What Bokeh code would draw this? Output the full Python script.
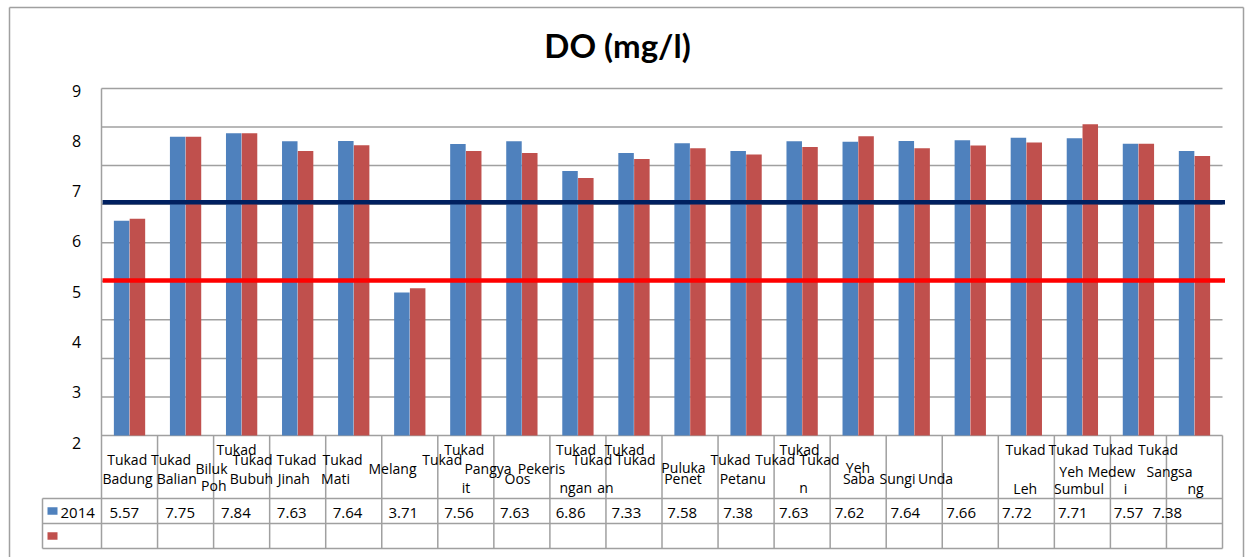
import numpy as np
from bokeh.plotting import figure
from bokeh.models import Range1d, ColumnDataSource
from bokeh.core.properties import value
from bokeh.embed import file_html
from bokeh.resources import INLINE

# ---------------- data ----------------
title = "DO (mg/l)"
categories = [
    "Tukad Badung", "Tukad Balian", "Tukad Biluk Poh", "Tukad Bubuh", "Tukad Jinah",
    "Tukad Mati", "Tukad Melangit", "Tukad Oos", "Tukad Pangyangan", "Tukad Pekerisan",
    "Tukad Penet", "Tukad Petanu", "Tukad Pulukan", "Tukad Yeh Saba", "Tukad Sungi",
    "Tukad Unda", "Tukad Yeh Leh", "Tukad Yeh Sumbul", "Tukad Medewi", "Tukad Sangsang",
]
series_2014_name = "2014"
do_2014 = [5.57, 7.75, 7.84, 7.63, 7.64, 3.71, 7.56, 7.63, 6.86, 7.33,
           7.58, 7.38, 7.63, 7.62, 7.64, 7.66, 7.72, 7.71, 7.57, 7.38]
series_2_name = ""
do_series2 = [5.62, 7.75, 7.84, 7.38, 7.53, 3.82, 7.38, 7.33, 6.68, 7.17,
              7.45, 7.29, 7.48, 7.76, 7.45, 7.52, 7.60, 8.07, 7.57, 7.25]
limit_navy = 6.05
limit_red = 4.02
y_max = 9
ytick_labels = ["9", "8", "7", "6", "5", "4", "3", "2"]

# category label text as it is broken into pieces in the table row
label_fragments = [
    ("Tukad", 236, 449.3), ("Tukad", 463.8, 449.3), ("Tukad", 575.5, 449.3), ("Tukad", 624, 449.3),
    ("Tukad", 799, 449.3), ("Tukad", 1025, 449.3), ("Tukad", 1068, 449.3), ("Tukad", 1112.5, 449.3),
    ("Tukad", 1157.5, 449.3),
    ("Tukad", 126.7, 459.3), ("Tukad", 170.5, 459.3), ("Tukad", 252, 459.3), ("Tukad", 296, 459.3),
    ("Tukad", 342, 459.3), ("Tukad", 441.7, 459.3), ("Tukad", 591.7, 459.3), ("Tukad", 635, 459.3),
    ("Tukad", 730, 459.3), ("Tukad", 774.7, 459.3), ("Tukad", 819, 459.3),
    ("Biluk", 211, 468), ("Melang", 392, 467.7), ("Pangya", 487.5, 468), ("Pekeris", 541, 468),
    ("Puluka", 683, 466.7), ("Yeh", 857.5, 466.7), ("Yeh", 1071, 470.5), ("Medew", 1111, 470.5),
    ("Sangsa", 1169, 470.5),
    ("Badung", 127, 478.3), ("Balian", 176.3, 478.3), ("Bubuh", 251, 478.3), ("Jinah", 293.3, 478.3),
    ("Mati", 335, 478.3), ("Oos", 517, 478.3), ("Penet", 682.5, 478.3), ("Petanu", 742.3, 478.3),
    ("Saba", 858.3, 478.3), ("Sungi", 897, 478.3), ("Unda", 935, 478.3),
    ("Poh", 213.3, 485.3), ("it", 465.5, 486.5), ("ngan", 575.3, 486.5), ("an", 605, 486.5),
    ("n", 803, 486.5), ("Leh", 1024.7, 487.7), ("Sumbul", 1078.5, 487.7), ("i", 1125, 487.7),
    ("ng", 1195, 487.7),
]

# ---------------- layout (page pixels) ----------------
OFF = 0
W, H = 1249, 557
PLOT_L, PLOT_R, PLOT_T, ZERO = 101, 1222, 88, 435
ROW_LABEL_B, ROW1_B, ROW2_B, LEGEND_L = 498, 523, 548, 42
YLAB_X, YLAB_TOP, YLAB_BOT = 76, 90, 442.3

n = len(categories)
col_w = (PLOT_R - PLOT_L) / n
unit = (ZERO - PLOT_T) / y_max


def fx(px):
    return (px - PLOT_L) / col_w


def fy(py):
    return (ZERO - py) / unit


FONT = value("Open Sans")
TFONT = value("Lato")
GRID = "#a0a0a0"

p = figure(width=W, height=H, output_backend="svg", toolbar_location=None,
           x_range=Range1d(fx(OFF), fx(OFF + W)), y_range=Range1d(fy(OFF + H), fy(OFF)),
           min_border=0, x_axis_location=None, y_axis_location=None)
p.grid.visible = False
p.outline_line_color = None
p.background_fill_color = "white"
p.border_fill_color = "white"

# outer chart border (left, top, right)
p.segment(x0=[fx(9), fx(9), fx(1243)], y0=[fy(560), fy(7), fy(7)],
          x1=[fx(9), fx(1243), fx(1243)], y1=[fy(7), fy(7), fy(560)],
          line_color="#a0a0a0", line_width=1.5)

# horizontal gridlines 0..9
gv = list(range(0, y_max + 1))
p.segment(x0=0, x1=n, y0=gv, y1=gv, line_color=GRID, line_width=1.5)

# bars
xc = np.arange(n) + 0.5
bw = 15.5 / col_w
dx = 7.9 / col_w
p.vbar(x=xc - dx, top=do_2014, bottom=0, width=bw, fill_color="#4f81bd", line_color=None)
p.vbar(x=xc + dx, top=do_series2, bottom=0, width=bw, fill_color="#c0504d", line_color=None)

# threshold lines
xend = fx(PLOT_R + 2.5)
p.segment(x0=[fx(PLOT_L + 1)], x1=[xend], y0=[limit_navy], y1=[limit_navy], line_color="#002060", line_width=4.5)
p.segment(x0=[fx(PLOT_L + 1)], x1=[xend], y0=[limit_red], y1=[limit_red], line_color="#ff0000", line_width=4.5)

# data table lines
tb = fy(ROW2_B)
vx = list(range(0, n + 1))
p.segment(x0=vx, x1=vx, y0=[y_max if i == 0 else 0 for i in vx], y1=tb, line_color=GRID, line_width=1.5)
p.segment(x0=fx(LEGEND_L), x1=fx(LEGEND_L), y0=fy(ROW_LABEL_B), y1=tb, line_color=GRID, line_width=1.5)
hy = [fy(ROW_LABEL_B), fy(ROW1_B), fy(ROW2_B)]
p.segment(x0=fx(LEGEND_L), x1=n, y0=hy, y1=hy, line_color=GRID, line_width=1.5)

# y tick labels
ty = np.linspace(YLAB_TOP, YLAB_BOT, len(ytick_labels))
p.text(x=[fx(YLAB_X)] * len(ytick_labels), y=[fy(v) for v in ty], text=ytick_labels,
       text_font=FONT, text_font_size=value("16px"), text_align="center",
       text_baseline="middle", text_color="black")

# title
p.text(x=[fx(617)], y=[fy(44)], text=[title], text_font=TFONT, text_font_size=value("33px"),
       text_font_style="bold", text_align="center", text_baseline="middle", text_color="black")

# category label row
src = ColumnDataSource(dict(
    x=[fx(f[1]) for f in label_fragments],
    y=[fy(f[2]) for f in label_fragments],
    t=[f[0] for f in label_fragments]))
p.text(x="x", y="y", text="t", source=src, text_font=FONT, text_font_size=value("14px"),
       text_align="center", text_baseline="middle", text_color="black")

# legend keys + series name
p.rect(x=[fx(52), fx(52)], y=[fy(510.5), fy(535.5)], width=10 / col_w, height=7.5 / unit,
       fill_color=["#4f81bd", "#c0504d"], line_color=None)
p.text(x=[fx(60)], y=[fy(512)], text=[series_2014_name], text_font=FONT,
       text_font_size=value("15px"), text_align="left", text_baseline="middle", text_color="black")
p.text(x=[fx(60)], y=[fy(536)], text=[series_2_name], text_font=FONT,
       text_font_size=value("15px"), text_align="left", text_baseline="middle", text_color="black")

# value cells (left padding inside each cell, last one spills left as in the source)
pad_px = [8 - 5 * i / (n - 1) for i in range(n)]
pad_px[-1] = -14
p.text(x=[i + pad_px[i] / col_w for i in range(n)], y=[fy(512)] * n, text=[f"{v:.2f}" for v in do_2014],
       text_font=FONT, text_font_size=value("15px"), text_align="left", text_baseline="middle",
       text_color="black")

open("out.html", "w").write(file_html(p, INLINE))
